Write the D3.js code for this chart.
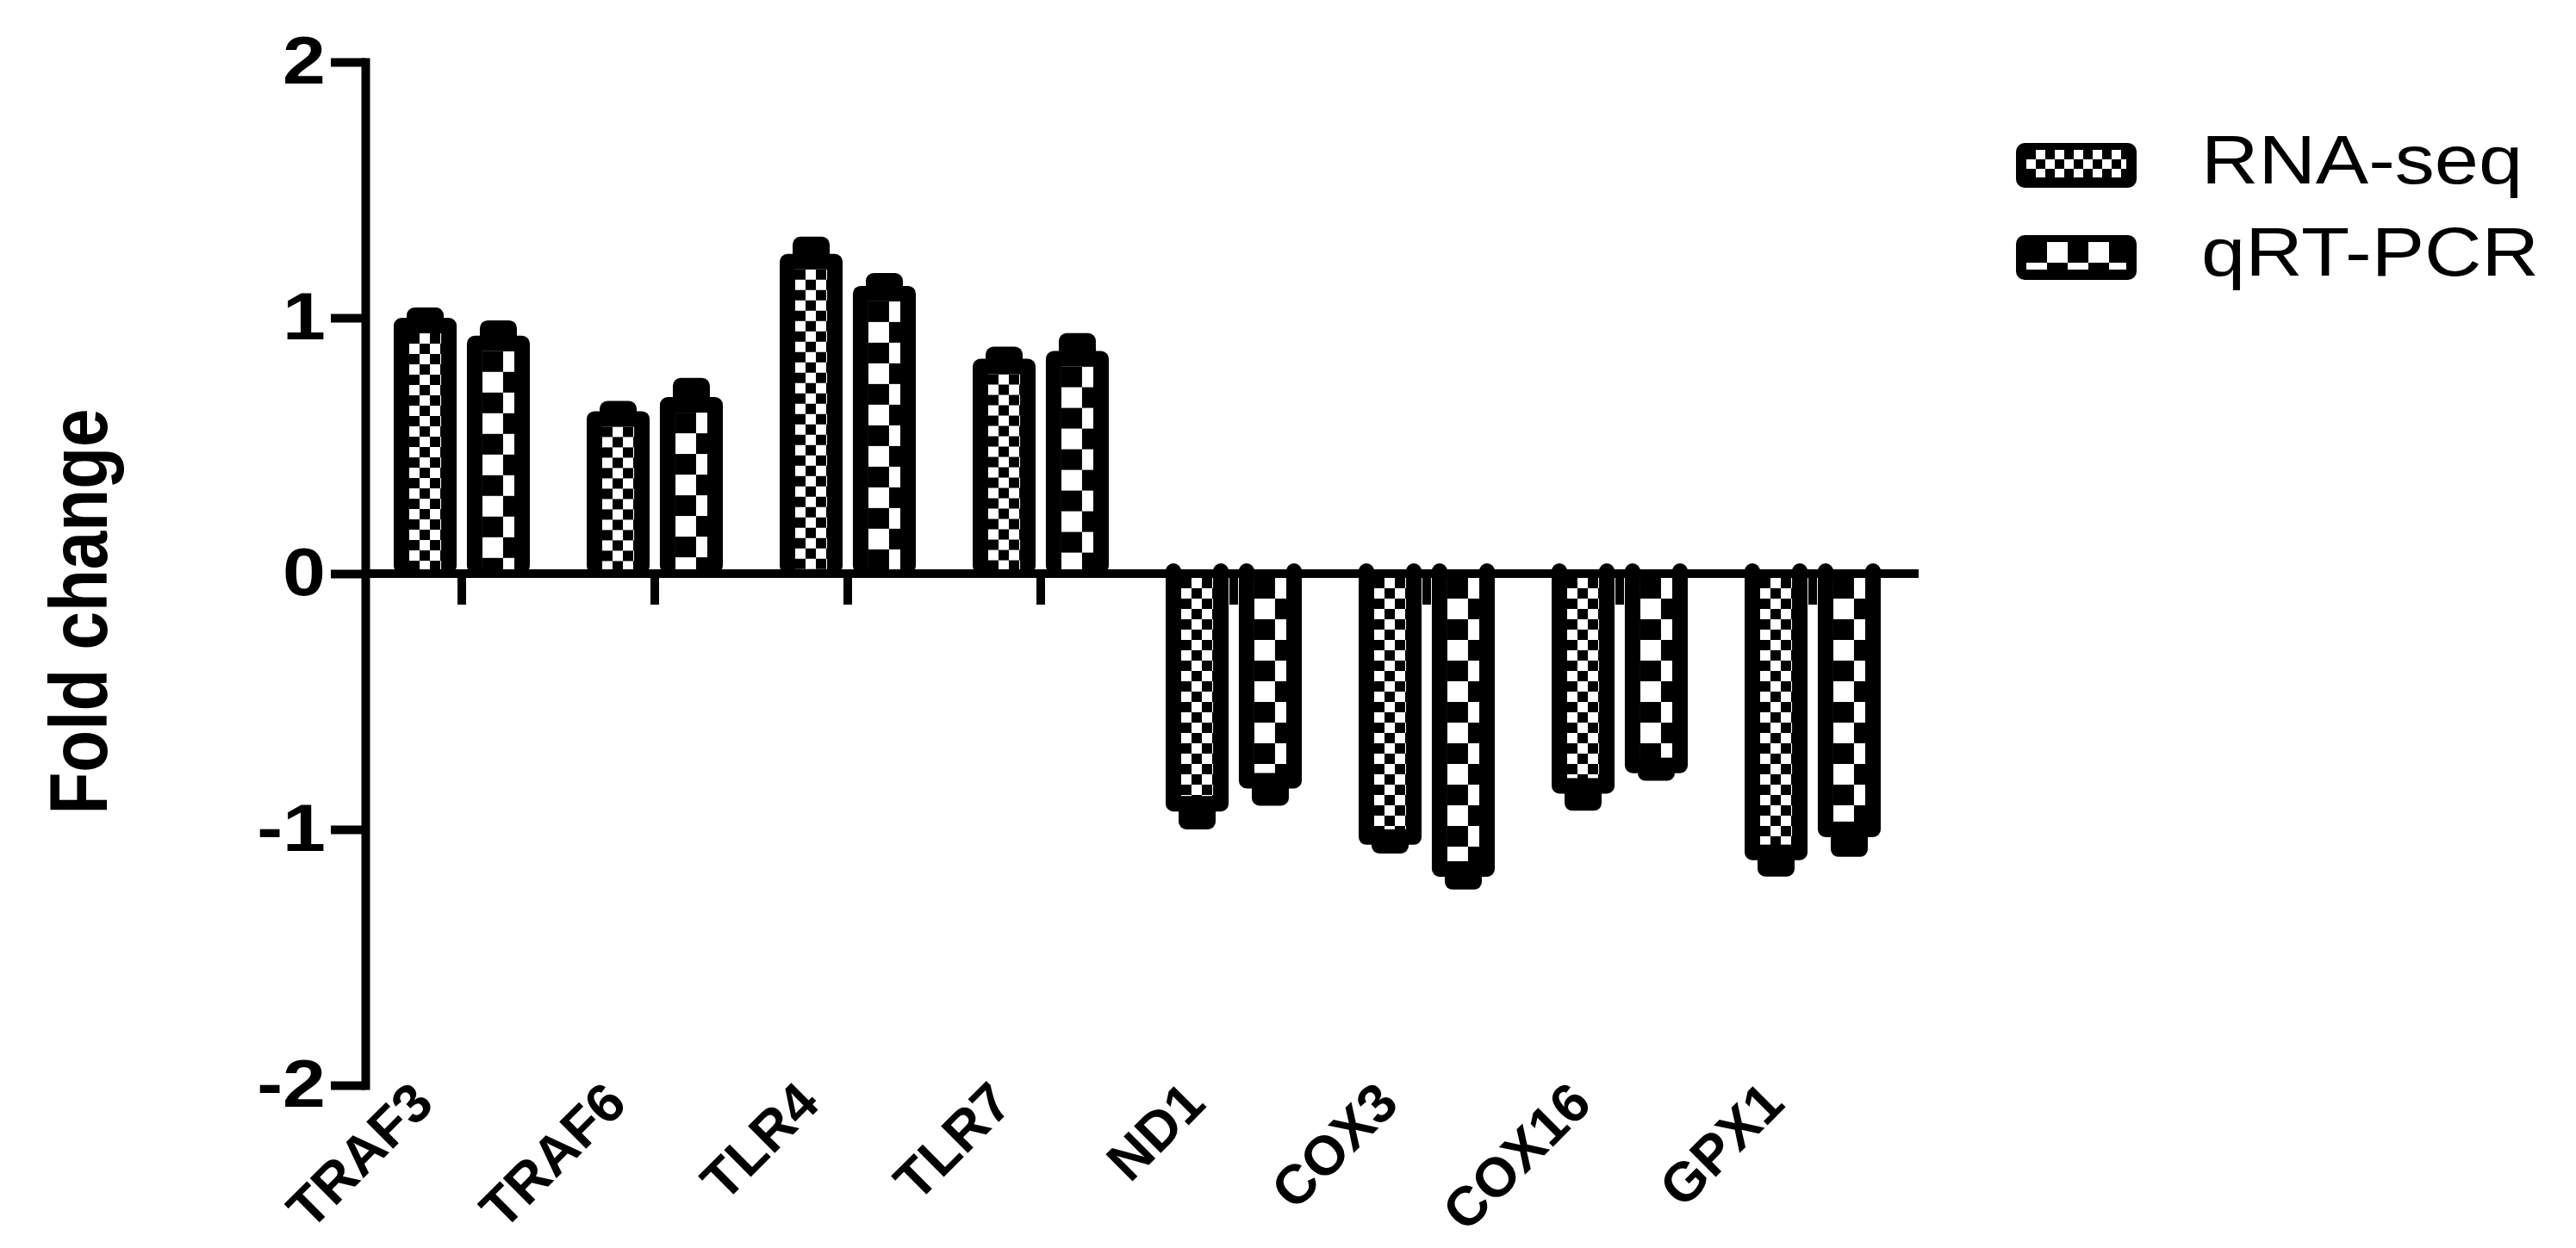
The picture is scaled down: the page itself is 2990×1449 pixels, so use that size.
<!DOCTYPE html>
<html><head><meta charset="utf-8">
<script src="https://cdn.jsdelivr.net/npm/d3@7"></script>
<style>body{margin:0;background:#fff}svg{display:block;background:#fff}</style>
</head><body>
<svg id="chart" width="2990" height="1449"></svg>
<script>
// ---- data ----
const categories = ["TRAF3","TRAF6","TLR4","TLR7","ND1","COX3","COX16","GPX1"];
const seriesNames = ["RNA-seq","qRT-PCR"];
const rnaSeq    = [1.00, 0.635, 1.25, 0.84, -0.93, -1.06, -0.86, -1.12];
const rnaSeqErr = [0.04, 0.04, 0.067, 0.047, 0.07, 0.034, 0.067, 0.064];
const qrtPcr    = [0.93, 0.69, 1.125, 0.87, -0.84, -1.185, -0.78, -1.03];
const qrtPcrErr = [0.06, 0.075, 0.05, 0.07, 0.067, 0.05, 0.03, 0.077];
const yTicks = [-2, -1, 0, 1, 2];
const yTitle = "Fold change";

// ---- layout ----
const FONT = "'Liberation Sans', Arial, Helvetica, sans-serif";
const SX = 1.15; // horizontal stretch of the original artwork's text
const svg = d3.select("#chart");
const defs = svg.append("defs");

const x0 = d3.scaleBand().domain(categories).range([424, 2216]).padding(0);
const half = 79;
const x1 = d3.scaleBand().domain(seriesNames)
  .range([x0.bandwidth() / 2 - half, x0.bandwidth() / 2 + half]).paddingInner(0.14);
const y = d3.scaleLinear().domain([-2, 2]).range([1260, 72]);

const cellSize = {"RNA-seq": 12, "qRT-PCR": 24};
const values = {"RNA-seq": rnaSeq, "qRT-PCR": qrtPcr};
const errors = {"RNA-seq": rnaSeqErr, "qRT-PCR": qrtPcrErr};

let pid = 0;
function makePattern(cell, px, py) {
  const id = "pat" + (pid++);
  const p = defs.append("pattern").attr("id", id)
    .attr("patternUnits", "userSpaceOnUse")
    .attr("x", px).attr("y", py)
    .attr("width", cell * 2).attr("height", cell * 2);
  p.append("rect").attr("width", cell * 2).attr("height", cell * 2).attr("fill", "#fff");
  p.append("rect").attr("x", 0).attr("y", 0).attr("width", cell).attr("height", cell).attr("fill", "#000");
  p.append("rect").attr("x", cell).attr("y", cell).attr("width", cell).attr("height", cell).attr("fill", "#000");
  return "url(#" + id + ")";
}

const BORDER = 18, CAPW = 43, RX = 9;

// flatten bar data
const bars = [];
categories.forEach((c, i) => {
  seriesNames.forEach(s => {
    bars.push({cat: c, series: s, v: values[s][i], e: errors[s][i]});
  });
});

const gBars = svg.append("g");
bars.forEach(d => {
  const xb = x0(d.cat) + x1(d.series);
  const w = x1.bandwidth();
  const y0 = y(0), yv = y(d.v);
  const top = Math.min(y0, yv), h = Math.abs(y0 - yv);
  const g = gBars.append("g");
  const cx = xb + w / 2;
  // error bar cap
  if (d.v >= 0) {
    const ye = y(d.v + d.e);
    g.append("rect").attr("x", cx - CAPW / 2).attr("y", ye)
      .attr("width", CAPW).attr("height", yv - ye + 12).attr("rx", RX).attr("fill", "#000");
  } else {
    const ye = y(d.v - d.e);
    g.append("rect").attr("x", cx - CAPW / 2).attr("y", yv - 12)
      .attr("width", CAPW).attr("height", ye - yv + 12).attr("rx", RX).attr("fill", "#000");
    // border posts poking above baseline
    [xb, xb + w - BORDER].forEach(px => {
      g.append("rect").attr("x", px).attr("y", y0 - 12).attr("width", BORDER)
        .attr("height", 30).attr("rx", RX).attr("fill", "#000");
    });
  }
  // bar outline
  g.append("rect").attr("x", xb).attr("y", top).attr("width", w).attr("height", h)
    .attr("rx", RX).attr("fill", "#000");
  // pattern interior
  let iy, ih;
  if (d.v >= 0) { iy = yv + BORDER; ih = (y0 - 5) - iy; }
  else { iy = y0 + 5; ih = (yv - BORDER) - iy; }
  const ix = xb + BORDER, iw = w - 2 * BORDER;
  if (ih > 0) {
    g.append("rect").attr("x", ix).attr("y", iy).attr("width", iw).attr("height", ih)
      .attr("fill", makePattern(cellSize[d.series], ix, iy));
  }
});

// ---- axes ----
const yAxis = svg.append("g").attr("transform", `translate(${x0.range()[0]},0)`)
  .call(d3.axisLeft(y).tickValues(yTicks).tickSize(40).tickSizeOuter(0).tickPadding(0)
    .tickFormat(d => d3.format("d")(d).replace("−", "-")));
yAxis.select(".domain").attr("stroke", "#000").attr("stroke-width", 10).attr("stroke-linecap", "square");
yAxis.selectAll(".tick line").attr("stroke", "#000").attr("stroke-width", 10);
yAxis.selectAll(".tick text").attr("fill", "#000").attr("x", 0)
  .attr("transform", `translate(-46,0) scale(${SX},1)`)
  .style("font-family", FONT).style("font-size", "78px").style("font-weight", "bold");

// x baseline at zero
svg.append("line").attr("x1", x0.range()[0]).attr("x2", x0.range()[1] + 11)
  .attr("y1", y(0)).attr("y2", y(0)).attr("stroke", "#000").attr("stroke-width", 10);
const xTicks = svg.append("g").attr("transform", `translate(0,${y(0)})`)
  .call(d3.axisBottom(x0).tickSize(36).tickSizeOuter(0).tickFormat(""));
xTicks.select(".domain").remove();
xTicks.selectAll(".tick line").attr("stroke", "#000").attr("stroke-width", 10);

// x category labels (rotated) at bottom of plot
const xLab = svg.append("g").attr("transform", `translate(0,${y(-2)})`)
  .call(d3.axisBottom(x0).tickSize(0).tickPadding(0).tickSizeOuter(0));
xLab.select(".domain").remove();
xLab.selectAll(".tick text").attr("y", 0).attr("dy", 0)
  .attr("text-anchor", "end").attr("fill", "#000")
  .attr("transform", "translate(-30,24) rotate(-45)")
  .style("font-family", FONT).style("font-size", "64px").style("font-weight", "bold");

// y title
svg.append("text").attr("transform", `translate(124,710) rotate(-90) scale(1,${SX + 0.03})`)
  .attr("text-anchor", "middle").attr("fill", "#000")
  .style("font-family", FONT).style("font-size", "80px").style("font-weight", "bold")
  .text(yTitle);

// ---- legend ----
const legend = svg.append("g");
const legY = d3.scaleBand().domain(seriesNames).range([163, 377]).paddingInner(0);
seriesNames.forEach(s => {
  const ly = legY(s) + 3;
  const lx = 2340, lw = 140, lh = 52, lb = 12;
  legend.append("rect").attr("x", lx).attr("y", ly).attr("width", lw).attr("height", lh)
    .attr("rx", 10).attr("fill", "#000");
  legend.append("rect").attr("x", lx + lb).attr("y", ly + 8).attr("width", lw - 2 * lb).attr("height", lh - 8 - lb)
    .attr("fill", makePattern(s === "RNA-seq" ? 11 : 24, lx + lb, ly + 8));
  legend.append("text").attr("transform", `translate(2555,${ly + 47}) scale(${SX},1)`).attr("fill", "#000")
    .style("font-family", FONT).style("font-size", "80px")
    .text(s);
});
</script>
</body></html>
